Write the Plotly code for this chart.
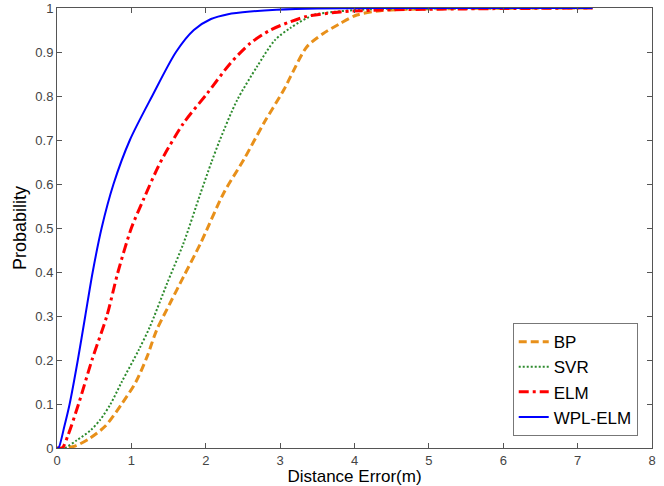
import plotly.graph_objects as go

# distance error (m) vs cumulative probability
bp_x = [0, 0.1, 0.25, 0.44, 0.65, 0.87, 1.06, 1.21, 1.34, 1.52, 1.70, 1.93, 2.24, 2.51, 2.78, 3.05, 3.14, 3.36, 3.58, 3.81, 4.03, 4.35, 4.71, 5.5, 7.2]
bp_y = [0, 0, 0.005, 0.022, 0.05, 0.1, 0.15, 0.207, 0.268, 0.329, 0.389, 0.465, 0.579, 0.655, 0.738, 0.814, 0.844, 0.912, 0.942, 0.965, 0.984, 0.994, 0.997, 0.999, 1]

svr_x = [0, 0.1, 0.27, 0.45, 0.58, 0.72, 0.87, 1.1, 1.25, 1.48, 1.70, 1.93, 2.08, 2.19, 2.42, 2.69, 2.93, 3.14, 3.45, 3.71, 4.2, 5.0, 7.2]
svr_y = [0, 0, 0.018, 0.04, 0.064, 0.1, 0.15, 0.223, 0.276, 0.374, 0.465, 0.579, 0.651, 0.70, 0.79, 0.867, 0.927, 0.955, 0.984, 0.991, 0.997, 0.999, 1]

elm_x = [0, 0.07, 0.15, 0.29, 0.47, 0.67, 0.82, 1.0, 1.16, 1.34, 1.43, 1.70, 2.02, 2.33, 2.6, 2.87, 3.14, 3.36, 3.81, 4.25, 5.5, 7.2]
elm_y = [0, 0, 0.03, 0.1, 0.2, 0.3, 0.4, 0.5, 0.564, 0.632, 0.662, 0.738, 0.806, 0.874, 0.92, 0.95, 0.969, 0.981, 0.991, 0.995, 0.998, 1]

wpl_x = [0, 0.02, 0.1, 0.17, 0.28, 0.38, 0.48, 0.6, 0.76, 0.98, 1.28, 1.6, 1.84, 2.07, 2.3, 2.6, 2.95, 3.5, 5.0, 7.2]
wpl_y = [0, 0, 0.05, 0.1, 0.2, 0.3, 0.4, 0.5, 0.6, 0.7, 0.8, 0.9, 0.95, 0.975, 0.986, 0.992, 0.996, 0.999, 1, 1]

series = [
    ("BP", bp_x, bp_y, "#E8901A", 3, "8px,4px"),
    ("SVR", svr_x, svr_y, "#2E8B2E", 2, "2px,2px"),
    ("ELM", elm_x, elm_y, "#FF0000", 3, "10px,4px,3px,4px"),
    ("WPL-ELM", wpl_x, wpl_y, "#0000FF", 2, "solid"),
]

fig = go.Figure()
for name, xs, ys, col, w, dash in series:
    fig.add_trace(go.Scatter(
        x=xs, y=ys, mode="lines", name=name,
        line=dict(color=col, width=w, dash=dash, shape="spline", smoothing=0.8),
    ))

axis_style = dict(
    showgrid=False, zeroline=False, showline=True, linecolor="#555555", linewidth=1,
    mirror="ticks", ticks="inside", ticklen=5, tickcolor="#555555",
    tickfont=dict(size=13, color="#444444"), automargin=False,
)

fig.update_xaxes(range=[0, 8], dtick=1,
                 title=dict(text="Distance Error(m)", font=dict(size=17, color="black"), standoff=4),
                 **axis_style)
fig.update_yaxes(range=[0, 1], dtick=0.1,
                 title=dict(text="Probability", font=dict(size=18, color="black"), standoff=4),
                 **axis_style)

fig.update_layout(
    width=664, height=486,
    margin=dict(l=57, r=12, t=8, b=38),
    plot_bgcolor="white", paper_bgcolor="white",
    font=dict(family="Liberation Sans, Arial, sans-serif"),
    legend=dict(
        x=0.976, y=0.027, xanchor="right", yanchor="bottom",
        bordercolor="#777777", borderwidth=1, bgcolor="white",
        font=dict(size=17, color="black"), tracegroupgap=0,
    ),
)

# drop the page's default body margin so the figure sits at the window origin
fig.write_html("out.html", config={"displayModeBar": False},
               post_script="document.body.style.margin='0';")
